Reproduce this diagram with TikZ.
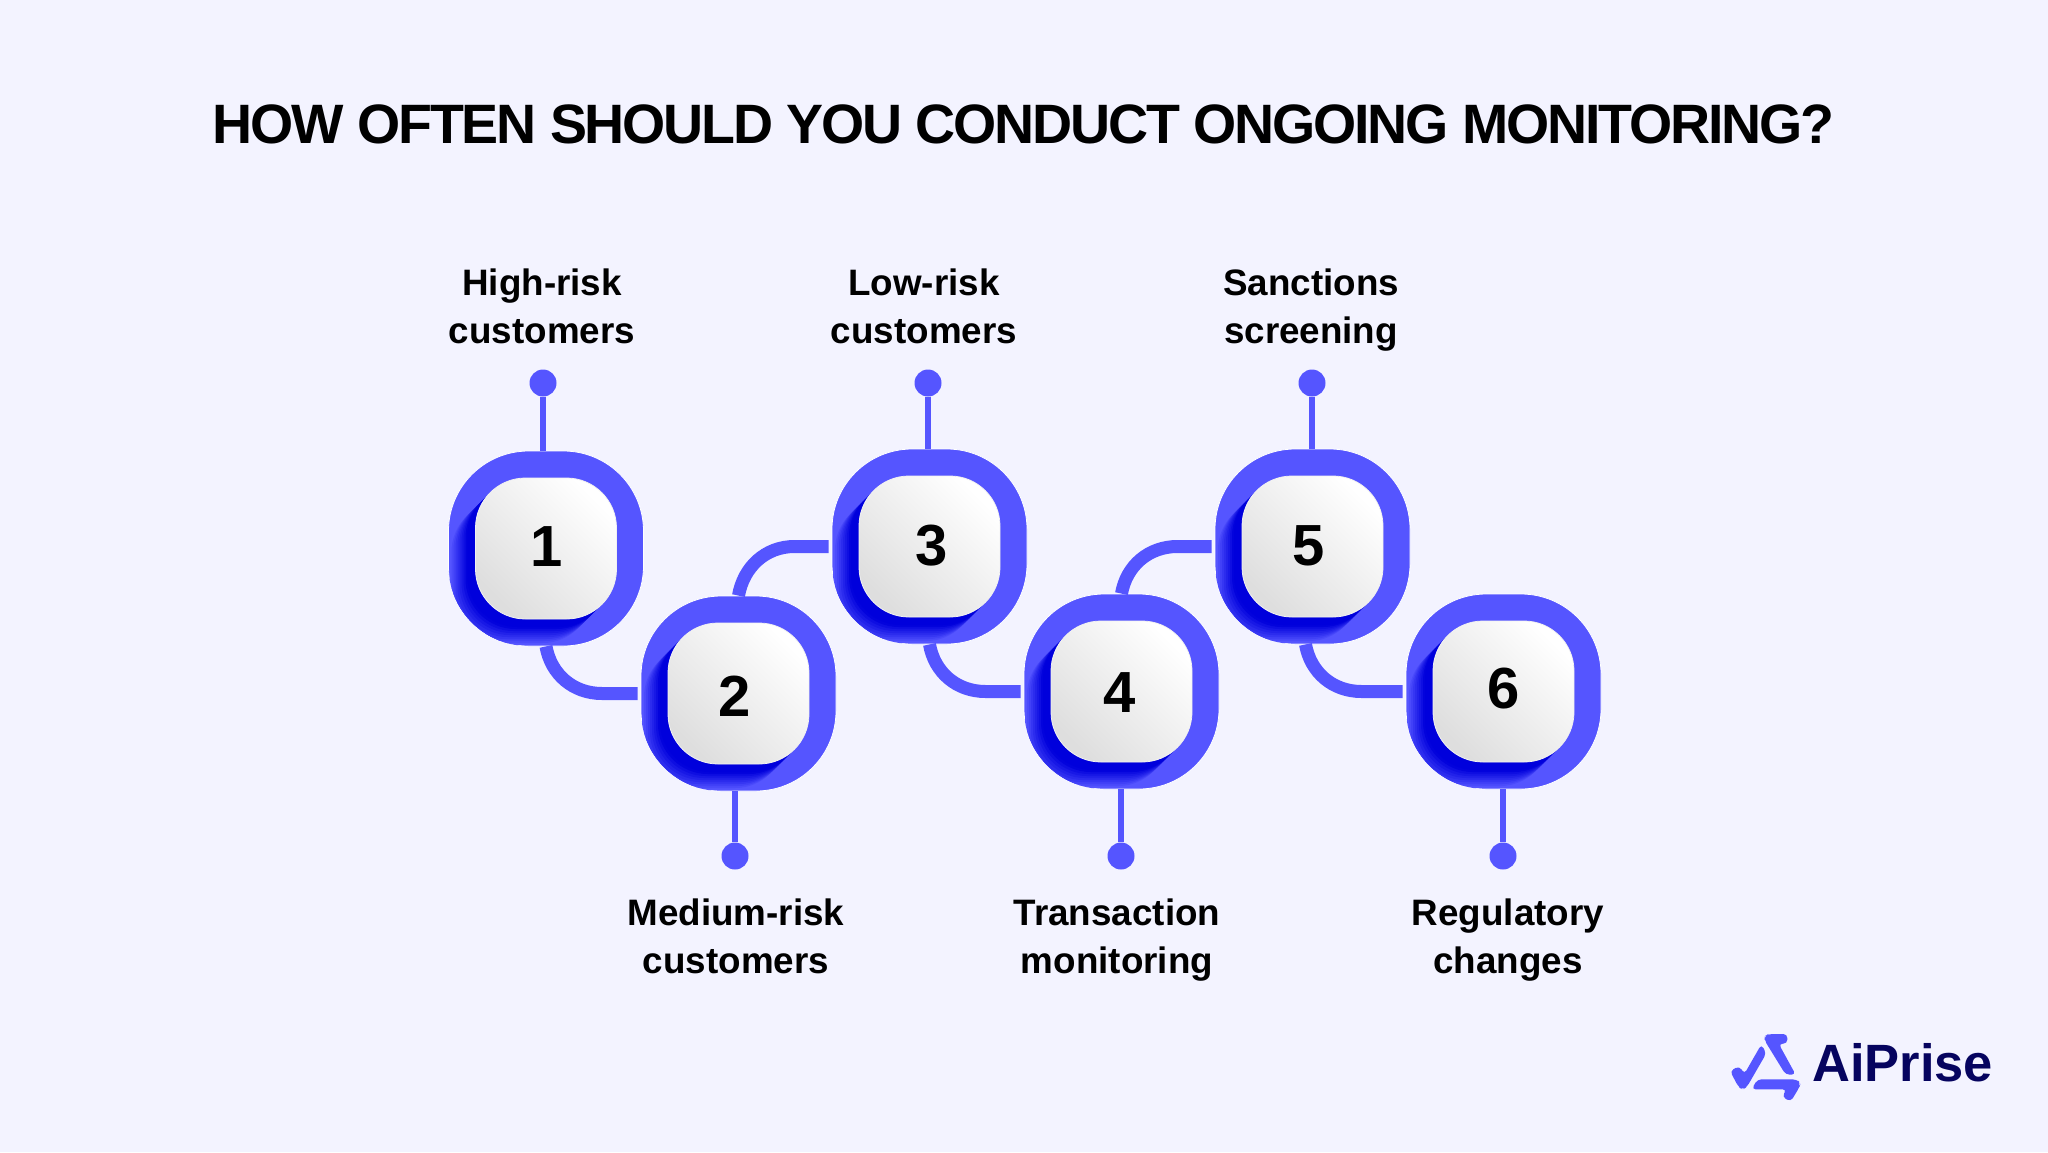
\documentclass[tikz,border=0pt]{standalone}
\usepackage{fontspec}
\setmainfont{Liberation Sans}
\newfontfamily\titlefont[LetterSpace=-3.9]{Liberation Sans Bold}
\usetikzlibrary{positioning}
\definecolor{pagebg}{HTML}{F3F3FF}
\definecolor{brandblue}{HTML}{5555FF}
\definecolor{deepblue}{HTML}{0000DC}
\definecolor{navy}{HTML}{06045F}
\definecolor{tilegrey}{HTML}{DEDEDE}
\tikzset{
    outerbox/.style = {fill = brandblue, draw = white, line width = .8pt, minimum size = 195pt, inner sep = 0pt, rounded corners = 80pt},
    tilebox/.style = {lower left = tilegrey, draw = white!90!gray, line width = .8pt, minimum size = 141pt, inner sep = 0pt, rounded corners = 50pt},
    lower left/.style = {shade, shading = axis, bottom color = #1, top color = white, shading angle = -45},
    digit/.style = {font = \fontsize{58}{60}\selectfont\bfseries, inner sep = 0pt},
    pindot/.style = {circle, fill = brandblue, minimum size = 27pt, inner sep = 0pt},
    pinline/.style = {draw = brandblue, line width = 5.5pt},
    linkline/.style = {draw = brandblue, line width = 13pt, shorten > = 3pt},
    steplabel/.style = {font = \fontsize{36.8}{47.5}\selectfont\bfseries, align = center, inner sep = 0pt, anchor = base}
}
\begin{document}
\begin{tikzpicture}[x = 1pt, y = -1pt]
    \useasboundingbox (0,0) rectangle (2048,1152);
    \fill[pagebg] (0,0) rectangle (2048,1152);
    \node[font = \fontsize{55.5}{60}\selectfont\titlefont] (title) at (1023.5,124) {HOW OFTEN SHOULD YOU CONDUCT ONGOING MONITORING?};
    \foreach \i/\cx/\cy/\dx/\dy in {1/546/548.5/546.5/547, 2/738.5/693.5/735/696, 3/929.5/546.5/932/546, 4/1121.5/691.5/1120/693, 5/1312.5/546.5/1309/546, 6/1503.5/691.5/1504/689} {
        \node[outerbox] (box\i) at (\cx,\cy) {};
        \begin{scope}
            \clip[rounded corners = 80pt] (\cx-97.5,\cy-97.5) rectangle +(195,195);
            \foreach \d in {26,24,...,0} {
                \pgfmathsetmacro{\mixval}{min(100,(26-\d)*6)}
                \fill[deepblue!\mixval!brandblue, rounded corners = 50pt] (\cx-70.5-\d,\cy-70.5+\d) rectangle +(141,141);
            }
        \end{scope}
        \node[tilebox] (tile\i) at (\cx,\cy) {};
        \node[digit] (digit\i) at (\dx,\dy) {\i};
    }
    \node[pindot] (dot1) at (543,383) {};
    \node[pindot] (dot2) at (735,856) {};
    \node[pindot] (dot3) at (928,383) {};
    \node[pindot] (dot4) at (1121,856) {};
    \node[pindot] (dot5) at (1312,383) {};
    \node[pindot] (dot6) at (1503,856) {};
    \draw[pinline] (dot1) -- (dot1 |- box1.north);
    \draw[pinline] (dot2) -- (dot2 |- box2.south);
    \draw[pinline] (dot3) -- (dot3 |- box3.north);
    \draw[pinline] (dot4) -- (dot4 |- box4.south);
    \draw[pinline] (dot5) -- (dot5 |- box5.north);
    \draw[pinline] (dot6) -- (dot6 |- box6.south);
    \draw[linkline] (box1.south) to[out = -80, in = 180] ([xshift = 56pt]box1.south |- box2.west) -- (box2.west);
    \draw[linkline] (box2.north) to[out = 80, in = 180] ([xshift = 56pt]box2.north |- box3.west) -- (box3.west);
    \draw[linkline] (box3.south) to[out = -80, in = 180] ([xshift = 56pt]box3.south |- box4.west) -- (box4.west);
    \draw[linkline] (box4.north) to[out = 80, in = 180] ([xshift = 56pt]box4.north |- box5.west) -- (box5.west);
    \draw[linkline] ([xshift = -7pt]box5.south) to[out = -80, in = 180] ([xshift = 49pt]box5.south |- box6.west) -- (box6.west);
    \node[steplabel] (label1) at (542,343) {High-risk\\customers};
    \node[steplabel] (label2) at (736,973) {Medium-risk\\customers};
    \node[steplabel] (label3) at (924,343) {Low-risk\\customers};
    \node[steplabel] (label4) at (1117,973) {Transaction\\monitoring};
    \node[steplabel] (label5) at (1311,343) {Sanctions\\screening};
    \node[steplabel] (label6) at (1508,973) {Regulatory\\changes};
    \begin{scope}[shift = {(1700,1010)}, scale = 1/3]
        \fill[brandblue, rounded corners = 4pt] (90,183) -- (118,168) -- (133,192) -- (184,103) -- (199,130) -- (140,232) -- (128,238) -- (116,232) -- cycle;
        \fill[brandblue, rounded corners = 4pt] (262,72) -- (262,101) -- (236,101) -- (287,194) -- (257,194) -- (193,90) -- (195,78) -- (205,72) -- cycle;
        \fill[brandblue, rounded corners = 4pt] (155,238) -- (172,208) -- (290,208) -- (302,220) -- (298,232) -- (272,275) -- (246,260) -- (260,238) -- cycle;
    \end{scope}
    \node[font = \fontsize{52.5}{56}\selectfont\bfseries, text = navy, anchor = base west, inner sep = 0pt] (logotext) at (1812,1081) {AiPrise};
\end{tikzpicture}
\end{document}
